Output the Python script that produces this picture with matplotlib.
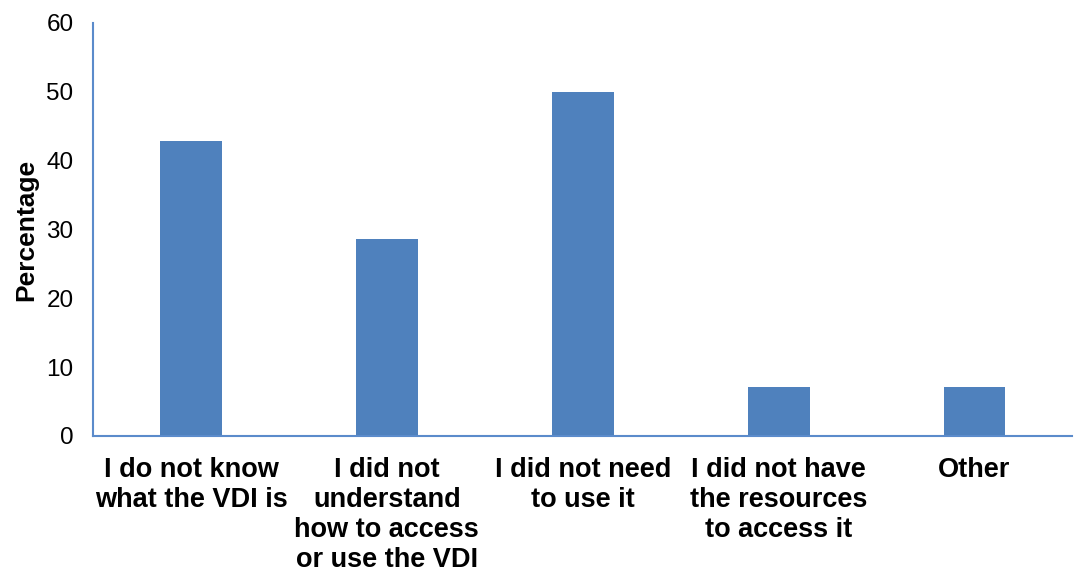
import numpy as np
import matplotlib.pyplot as plt

plt.rcParams['font.family'] = ['Liberation Sans', 'DejaVu Sans']

# survey answers (percent of respondents)
categories = ['I do not know\nwhat the VDI is',
              'I did not\nunderstand\nhow to access\nor use the VDI',
              'I did not need\nto use it',
              'I did not have\nthe resources\nto access it',
              'Other']
values = [42.86, 28.57, 50.0, 7.14, 7.14]
yticks = [0, 10, 20, 30, 40, 50, 60]

fig = plt.figure(figsize=(10.74, 5.72), dpi=100)
ax = fig.add_axes([0.0866, 0.2378, 0.912, 0.722])

x = np.arange(len(categories))
ax.bar(x, values, width=0.315, color='#4F81BD')

ax.set_xlim(-0.5, len(categories) - 0.5)
ax.set_ylim(0, 60)
ax.set_yticks(yticks)
ax.set_xticks(x)
ax.set_xticklabels(categories, fontsize=19.5, fontweight='bold', linespacing=1.2)
ax.tick_params(axis='y', length=0, pad=14, labelsize=17.5)
ax.tick_params(axis='x', length=0, pad=15)
ax.set_ylabel('Percentage', fontsize=19, fontweight='bold', labelpad=6)

for s in ['top', 'right']:
    ax.spines[s].set_visible(False)
for s in ['left', 'bottom']:
    ax.spines[s].set_color('#5B8BCB')
    ax.spines[s].set_linewidth(1.5)

plt.savefig('out.png', dpi=100)
